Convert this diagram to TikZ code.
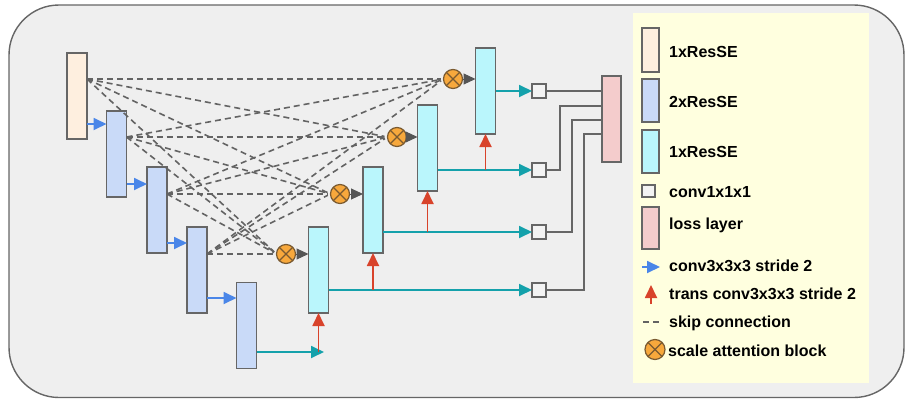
\documentclass[tikz,border=0pt]{standalone}
\usepackage{fontspec}
\setmainfont{Liberation Sans}
\usetikzlibrary{arrows.meta,calc}

\definecolor{panelbg}{HTML}{EFEFEF}
\definecolor{edgegray}{HTML}{666666}
\definecolor{dashgray}{HTML}{636363}
\definecolor{tipgray}{HTML}{555555}
\definecolor{peach}{HTML}{FEEFDF}
\definecolor{paleblue}{HTML}{C9DAF8}
\definecolor{palecyan}{HTML}{BAF6FC}
\definecolor{losspink}{HTML}{F4CCCC}
\definecolor{sqfill}{HTML}{F3F3F3}
\definecolor{legendyellow}{HTML}{FFFFDF}
\definecolor{attorange}{HTML}{F7A83C}
\definecolor{attedge}{HTML}{7A5A30}
\definecolor{arrowblue}{HTML}{4A86E8}
\definecolor{arrowred}{HTML}{D8432B}
\definecolor{fwdteal}{HTML}{14A1AB}

\begin{document}
\begin{tikzpicture}[x=1pt,y=-1pt,
  block/.style={draw=edgegray, line width=1.6pt, minimum width=20pt,
    minimum height=86pt, inner sep=0pt, outer sep=0pt},
  encfirst/.style={block, fill=peach},
  enc/.style={block, fill=paleblue},
  dec/.style={block, fill=palecyan},
  lossbox/.style={block, fill=losspink, minimum width=19pt},
  sq/.style={draw=edgegray, line width=1.5pt, fill=sqfill, minimum width=14pt,
    minimum height=14pt, inner sep=0pt, outer sep=0pt},
  att/.style={circle, draw=attedge, line width=1.2pt, fill=attorange,
    minimum size=19pt, inner sep=0pt, outer sep=0pt,
    path picture={\draw[attedge, line width=1.2pt]
      (path picture bounding box.north west) -- (path picture bounding box.south east)
      (path picture bounding box.north east) -- (path picture bounding box.south west);}},
  skipline/.style={draw=dashgray, line width=1.6pt, dash pattern=on 6pt off 4pt, shorten >=3pt},
  convarrow/.style={draw=arrowblue, line width=1.8pt, -{Triangle[length=13pt,width=12pt]}},
  transarrow/.style={draw=arrowred, line width=1.8pt, -{Triangle[length=13pt,width=12pt]}},
  fwdarrow/.style={draw=fwdteal, line width=1.8pt, -{Triangle[length=13pt,width=12pt]}},
  feedarrow/.style={draw=tipgray, line width=1pt, -{Triangle[length=12pt,width=11pt]}},
  wire/.style={draw=edgegray, line width=1.6pt},
  legtext/.style={anchor=west, inner sep=0pt, text height=11.5pt, text depth=0pt,
    font=\fontsize{16}{19}\selectfont\bfseries}
]
\useasboundingbox (0,0) rectangle (905,399);

% panel
\draw[draw=edgegray, fill=panelbg, line width=1.4pt, rounded corners=50pt]
  (9,5) rectangle (904,397.5);

% legend background
\fill[legendyellow] (633,13) rectangle (869,383);

% encoder path
\node[encfirst] (E0) at (77,96) {};
\node[enc] (E1) at (116.5,154) {};
\node[enc] (E2) at (157,210) {};
\node[enc] (E3) at (197,270) {};
\node[enc] (E4) at (246.5,325.5) {};

% decoder path
\node[dec] (D0) at (485.5,91) {};
\node[dec] (D1) at (427.5,148) {};
\node[dec] (D2) at (373,210) {};
\node[dec] (D3) at (318.5,270) {};

% scale attention blocks
\node[att] (A0) at (453,79) {};
\node[att] (A1) at (397,137) {};
\node[att] (A2) at (340,194) {};
\node[att] (A3) at (286,254) {};

% conv1x1x1 heads and loss
\node[sq] (Q0) at (539,91) {};
\node[sq] (Q1) at (539,170) {};
\node[sq] (Q2) at (539,232) {};
\node[sq] (Q3) at (539,290) {};
\node[lossbox] (L) at (611.5,119) {};

% skip connections: every encoder level to every attention block
\coordinate (S0) at (E0.east |- A0.center);
\coordinate (S1) at (E1.east |- A1.center);
\coordinate (S2) at (E2.east |- A2.center);
\coordinate (S3) at (E3.east |- A3.center);
\foreach \s in {0,1,2,3}{
  \foreach \a in {0,1,2,3}{
    \draw[skipline] (S\s) -- (A\a.west);
  }
}

% attention output into decoder
\draw[feedarrow] (A0.east) -- (D0.west |- A0.center);
\draw[feedarrow] (A1.east) -- (D1.west |- A1.center);
\draw[feedarrow] (A2.east) -- (D2.west |- A2.center);
\draw[feedarrow] (A3.east) -- (D3.west |- A3.center);

% strided convolutions down the encoder
\draw[convarrow] (E0.east |- 0,124) -- (E1.west |- 0,124);
\draw[convarrow] (E1.east |- 0,184) -- (E2.west |- 0,184);
\draw[convarrow] (E2.east |- 0,243) -- (E3.west |- 0,243);
\draw[convarrow] (E3.east |- 0,298) -- (E4.west |- 0,298);

% bottleneck to first decoder level
\coordinate (T3) at (324,352);
\draw[fwdarrow] (E4.east |- T3) -- (T3);
\draw[transarrow] (D3.south |- T3) -- (D3.south);

% decoder outputs to heads, transposed convolutions upward
\draw[fwdarrow] (D3.east |- Q3) -- (Q3.west);
\draw[fwdarrow] (D2.east |- Q2) -- (Q2.west);
\draw[fwdarrow] (D1.east |- Q1) -- (Q1.west);
\draw[fwdarrow] (D0.east |- Q0) -- (Q0.west);
\draw[transarrow] (D2.south |- Q3) -- (D2.south);
\draw[transarrow] (D1.south |- Q2) -- (D1.south);
\draw[transarrow] (D0.south |- Q1) -- (D0.south);

% heads into the loss layer
\draw[wire] (Q0.east) -- (L.west |- Q0.center);
\draw[wire] (Q1.east) -| (560,106) -- (L.west |- 0,106);
\draw[wire] (Q2.east) -| (572,120) -- (L.west |- 0,120);
\draw[wire] (Q3.east) -| (584,134) -- (L.west |- 0,134);

% legend
\node[block, fill=peach, minimum width=17pt, minimum height=44pt] (k0) at (650.5,50) {};
\node[block, fill=paleblue, minimum width=17pt, minimum height=43pt] (k1) at (650.5,100.5) {};
\node[block, fill=palecyan, minimum width=17pt, minimum height=43pt] (k2) at (650.5,151.5) {};
\node[sq, minimum width=13pt, minimum height=12pt] (k3) at (648.5,191) {};
\node[block, fill=losspink, minimum width=17pt, minimum height=42pt] (k4) at (650.5,228) {};
\coordinate (k5a) at (642,267);
\coordinate (k5b) at (660,267);
\draw[convarrow] (k5a) -- (k5b);
\coordinate (k6a) at (651,304);
\coordinate (k6b) at (651,285);
\draw[transarrow] (k6a) -- (k6b);
\coordinate (k7a) at (643,322);
\coordinate (k7b) at (659,322);
\draw[skipline, shorten >=0pt] (k7a) -- (k7b);
\node[att, minimum size=20pt] (k8) at (655,349.5) {};

\node[legtext] at (669,52) {1xResSE};
\node[legtext] at (669,101.5) {2xResSE};
\node[legtext] at (669,152) {1xResSE};
\node[legtext] at (669,191.5) {conv1x1x1};
\node[legtext] at (669,224) {loss layer};
\node[legtext] at (669,266) {conv3x3x3 stride 2};
\node[legtext] at (669,294) {trans conv3x3x3 stride 2};
\node[legtext] at (669,322) {skip connection};
\node[legtext] at (668,350.5) {scale attention block};
\end{tikzpicture}
\end{document}
